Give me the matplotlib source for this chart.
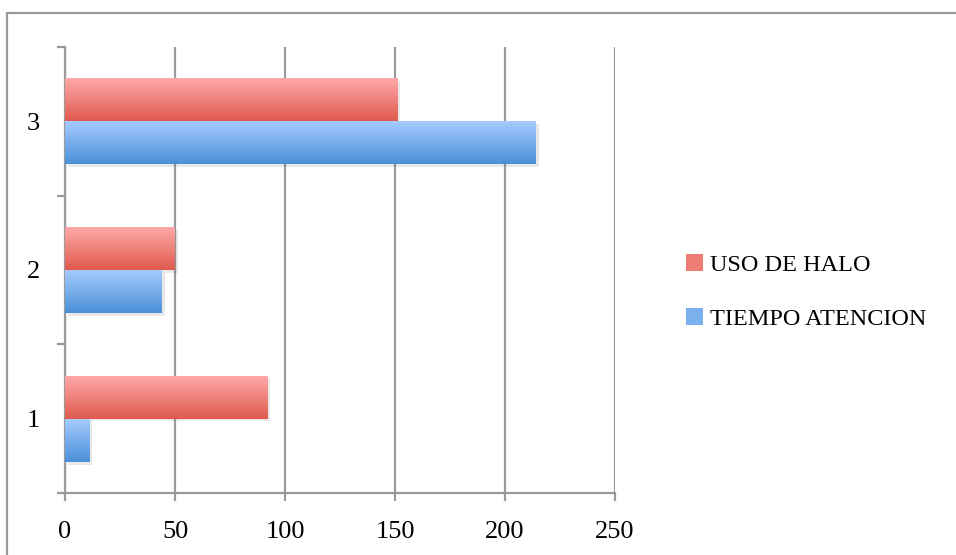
import numpy as np
import matplotlib
matplotlib.use("Agg")
import matplotlib.pyplot as plt
from matplotlib.patches import Rectangle
from matplotlib.colors import LinearSegmentedColormap
import matplotlib.patheffects as pe

# data
categories = ['1', '2', '3']
uso_halo = [92, 50, 151]
tiempo_atencion = [11, 44, 214]
x_ticks = [0, 50, 100, 150, 200, 250]

plt.rcParams['font.family'] = ['Liberation Serif', 'DejaVu Serif']

RED_TOP, RED_BOT = '#ffabab', '#df5a4e'
BLUE_TOP, BLUE_BOT = '#a8ccff', '#4a90d8'
GRID = '#9a9a9a'

fig = plt.figure(figsize=(9.56, 5.55), dpi=100)
ax = fig.add_axes([65 / 956, 62 / 555, 550 / 956, 446 / 555])

# outer frame of the chart object
fig.patches.append(Rectangle((7 / 956, -0.1), 2, (555 - 13) / 555 + 0.1,
                             transform=fig.transFigure, fill=False,
                             edgecolor=GRID, linewidth=1.6))

y = np.arange(len(categories))
h = 0.29
shadow = [pe.SimplePatchShadow(offset=(2, -2), shadow_rgbFace='#666666', alpha=0.15),
          pe.Normal()]
b_halo = ax.barh(y + h / 2, uso_halo, height=h, color=RED_BOT, zorder=3,
                 label='USO DE HALO', path_effects=shadow)
b_time = ax.barh(y - h / 2, tiempo_atencion, height=h, color=BLUE_BOT, zorder=3,
                 label='TIEMPO ATENCION', path_effects=shadow)


def gradient(bars, top, bot):
    cmap = LinearSegmentedColormap.from_list('g', [bot, top])
    grad = np.linspace(0, 1, 256).reshape(-1, 1)
    for b in bars:
        x0, y0 = b.get_x(), b.get_y()
        im = ax.imshow(grad, cmap=cmap, aspect='auto', origin='lower',
                       extent=[x0, x0 + b.get_width(), y0, y0 + b.get_height()],
                       zorder=4)
        im.set_clip_path(b)


gradient(b_halo, RED_TOP, RED_BOT)
gradient(b_time, BLUE_TOP, BLUE_BOT)

ax.set_xlim(0, 250)
ax.set_ylim(-0.5, 2.5)
ax.set_xticks(x_ticks)
ax.set_xticklabels([str(t) for t in x_ticks], fontsize=19)
ax.xaxis.grid(True, color=GRID, linewidth=1.6, zorder=0)
ax.set_axisbelow(True)

ax.set_yticks([-0.5, 0.5, 1.5, 2.5])
ax.set_yticklabels([])
ax.set_yticks(y, minor=True)
ax.set_yticklabels(categories, minor=True, fontsize=19)
ax.tick_params(axis='y', which='minor', length=0, pad=18)
ax.tick_params(axis='y', which='major', length=6, width=1.6, color=GRID)
ax.tick_params(axis='x', length=6, width=1.6, color=GRID, pad=14)

for s in ['top', 'right']:
    ax.spines[s].set_visible(False)
for s in ['left', 'bottom']:
    ax.spines[s].set_color(GRID)
    ax.spines[s].set_linewidth(1.6)

handles = [Rectangle((0, 0), 1, 1, facecolor='#ee7d74'),
           Rectangle((0, 0), 1, 1, facecolor='#7ab0ee')]
fig.legend(handles, ['USO DE HALO', 'TIEMPO ATENCION'], loc='center left',
           bbox_to_anchor=(664 / 956, 1 - 292 / 555), frameon=False, fontsize=17.5,
           handlelength=0.7, handleheight=0.7, handletextpad=0.3, labelspacing=1.35)

fig.savefig('out.png', dpi=100)
